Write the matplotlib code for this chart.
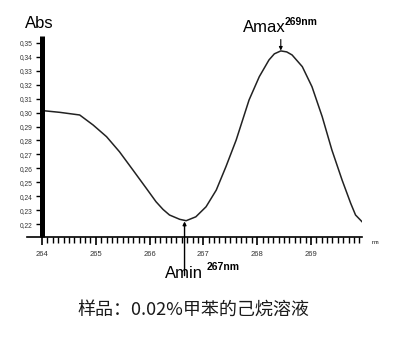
import matplotlib
matplotlib.use("Agg")
import matplotlib.pyplot as plt
import numpy as np

# Data
wavelength = [264.02, 264.33, 264.70, 264.95, 265.20, 265.44, 265.69, 265.94, 266.12,
              266.25, 266.37, 266.56, 266.68, 266.86, 267.05, 267.24, 267.42, 267.61,
              267.79, 267.85, 268.04, 268.22, 268.32, 268.44, 268.55, 268.65, 268.84,
              269.02, 269.21, 269.39, 269.58, 269.74, 269.83, 269.95]
absorbance = [0.3014, 0.3002, 0.2983, 0.2911, 0.2827, 0.2719, 0.2588, 0.2456, 0.2360,
              0.2305, 0.2265, 0.2234, 0.2224, 0.2252, 0.2324, 0.2444, 0.2612, 0.2803,
              0.3019, 0.3091, 0.3258, 0.3378, 0.3422, 0.3443, 0.3436, 0.3414, 0.3330,
              0.3186, 0.2971, 0.2732, 0.2516, 0.2349, 0.2265, 0.2217]
y_ticks = [0.22, 0.23, 0.24, 0.25, 0.26, 0.27, 0.28, 0.29, 0.30, 0.31, 0.32, 0.33, 0.34, 0.35]
y_tick_labels = ["0,22", "0,23", "0,24", "0,25", "0,26", "0,27", "0,28", "0,29",
                 "0,30", "0,31", "0,32", "0,33", "0,34", "0,35"]
x_ticks = [264, 265, 266, 267, 268, 269]
x_tick_labels = ["264", "265", "266", "267", "268", "269"]
amax_wl, amax_abs = 268.44, 0.3443
amin_wl, amin_abs = 266.65, 0.2222
caption = "样品：0.02%甲苯的己烷溶液"

plt.rcParams['font.family'] = ['Liberation Sans', 'DejaVu Sans']

fig = plt.figure(figsize=(3.97, 3.42), dpi=100)
ax = fig.add_axes([0.068, 0.307, 0.8438, 0.5877])

ax.plot(wavelength, absorbance, color='#222222', lw=1.1, solid_joinstyle='round')

ax.set_xlim(263.72, 269.95)
ax.set_ylim(0.2107, 0.355)

for s in ['top', 'right']:
    ax.spines[s].set_visible(False)
ax.spines['left'].set_position(('data', 264))
ax.spines['left'].set_linewidth(3.6)
ax.spines['left'].set_capstyle('butt')
ax.spines['bottom'].set_linewidth(1.2)

ax.set_yticks(y_ticks)
ax.set_yticklabels(y_tick_labels, fontsize=4.8, color='#333333')
ax.set_xticks(x_ticks)
ax.set_xticklabels(x_tick_labels, fontsize=5.5, color='#333333')
ax.set_xticks(np.arange(264, 269.95, 0.1), minor=True)
ax.tick_params(axis='y', direction='out', length=4, width=1, pad=3)
ax.tick_params(axis='x', which='major', direction='out', length=6, width=1.2, pad=4)
ax.tick_params(axis='x', which='minor', direction='out', length=4, width=1)

fig.text(25 / 397, 1 - 24 / 342, "Abs", fontsize=12, va='center', ha='left')
fig.text(372 / 397, 1 - 243 / 342, "nm", fontsize=4, va='center', ha='left')

# Amax annotation
ax.annotate("", xy=(amax_wl, amax_abs + 0.0003), xytext=(amax_wl, 0.3525),
            arrowprops=dict(arrowstyle='-|>', color='black', lw=0.8,
                            mutation_scale=5, shrinkA=0, shrinkB=0),
            annotation_clip=False)
fig.text(243 / 397, 1 - 27 / 342, "Amax", fontsize=12, va='center', ha='left')
fig.text(285 / 397, 1 - 22 / 342, "269nm", fontsize=7.5, fontweight='bold',
         va='center', ha='left')

# Amin annotation
ax.annotate("", xy=(amin_wl, amin_abs - 0.0003), xytext=(amin_wl, 0.1830),
            arrowprops=dict(arrowstyle='-|>', color='black', lw=1.0,
                            mutation_scale=5, shrinkA=0, shrinkB=0),
            annotation_clip=False)
fig.text(165 / 397, 1 - 274 / 342, "Amin", fontsize=12, va='center', ha='left')
fig.text(207 / 397, 1 - 267 / 342, "267nm", fontsize=7.5, fontweight='bold',
         va='center', ha='left')

fig.text(193 / 397, 1 - 310 / 342, caption, fontsize=13, va='center', ha='center',
         family=['Noto Sans CJK SC', 'DejaVu Sans'], color='#1a1a1a')

fig.savefig("out.png", dpi=100)
